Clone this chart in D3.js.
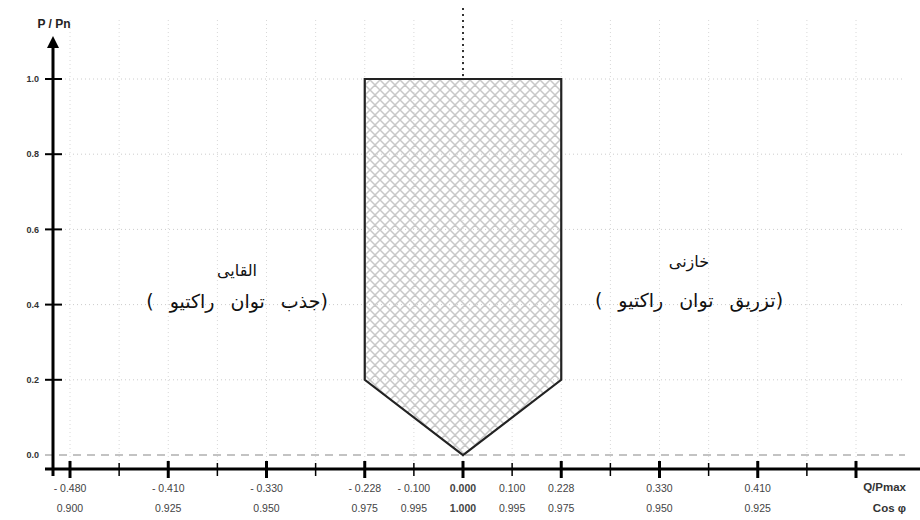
<!DOCTYPE html>
<html>
<head>
<meta charset="utf-8">
<script src="https://cdn.jsdelivr.net/npm/d3@7"></script>
<style>
  body { margin: 0; background: #fff; }
  svg text { font-family: "Liberation Sans", Arial, sans-serif; }
  .fa { font-family: "DejaVu Sans", sans-serif; fill: #111; }
</style>
</head>
<body>
<div id="chart"></div>
<script>
// tick labels along the horizontal axis (index = tick slot, halves are minor ticks)
var qSlots  = [0, 1, 2, 3, 3.5, 4, 4.5, 5, 6, 7];
var qLabels = ["- 0.480", "- 0.410", "- 0.330", "- 0.228", "- 0.100", "0.000", "0.100", "0.228", "0.330", "0.410"];
var qValues = [-0.480, -0.410, -0.330, -0.228, -0.100, 0, 0.100, 0.228, 0.330, 0.410];
var cosLabels = ["0.900", "0.925", "0.950", "0.975", "0.995", "1.000", "0.995", "0.975", "0.950", "0.925"];
var pTicks = [0.0, 0.2, 0.4, 0.6, 0.8, 1.0];

// operating area (Q/Pmax, P/Pn)
var areaQ = [-0.228, -0.228, 0.228, 0.228, 0];
var areaP = [0.2, 1.0, 1.0, 0.2, 0.0];

// region captions
var leftLines  = ["القایی", "( جذب توان راکتیو)"];
var rightLines = ["خازنی", "( تزریق توان راکتیو)"];

var width = 920, height = 520;

var svg = d3.select("#chart").append("svg")
    .attr("width", width)
    .attr("height", height);

// slot scale -> pixels
var x = d3.scaleLinear().domain([0, 8]).range([70, 856]);
// piecewise scale from Q value to pixel
var q = d3.scaleLinear().domain(qValues).range(qSlots.map(function(s) { return x(s); }));
var y = d3.scaleLinear().domain([0, 1]).range([455, 79]);

var axisY = 469, axisX = 53;

// hatch pattern
var defs = svg.append("defs");
var pat = defs.append("pattern")
    .attr("id", "hatch")
    .attr("patternUnits", "userSpaceOnUse")
    .attr("width", 10).attr("height", 10);
pat.append("path")
    .attr("d", "M0,0 L10,10 M10,0 L0,10 M-5,5 L5,15 M5,-5 L15,5 M5,15 L15,5 M-5,5 L5,-5")
    .style("stroke", "#c8c8c8")
    .style("stroke-width", 1.5);

defs.append("marker")
    .attr("id", "arrow")
    .attr("viewBox", "0 0 10 10")
    .attr("refX", 5).attr("refY", 5)
    .attr("markerWidth", 4).attr("markerHeight", 4)
    .attr("orient", "auto")
  .append("path")
    .attr("d", "M0,0 L10,5 L0,10 z")
    .style("fill", "#000");

// grid
var slots = d3.range(0, 8.5, 0.5);
svg.append("g").selectAll("line")
    .data(slots)
  .enter().append("line")
    .attr("x1", function(d) { return x(d); })
    .attr("x2", function(d) { return x(d); })
    .attr("y1", 20).attr("y2", 462)
    .style("stroke", "#d8d8d8")
    .style("stroke-width", 1)
    .style("stroke-dasharray", "1,3");

svg.append("g").selectAll("line")
    .data(pTicks.slice(1))
  .enter().append("line")
    .attr("x1", axisX).attr("x2", 905)
    .attr("y1", function(d) { return y(d); })
    .attr("y2", function(d) { return y(d); })
    .style("stroke", "#cccccc")
    .style("stroke-width", 1)
    .style("stroke-dasharray", "1,3");

// zero line
svg.append("line")
    .attr("x1", 45).attr("x2", 905)
    .attr("y1", y(0)).attr("y2", y(0))
    .style("stroke", "#888")
    .style("stroke-width", 1.2)
    .style("stroke-dasharray", "8,6");

// dotted line above the area
svg.append("line")
    .attr("x1", q(0)).attr("x2", q(0))
    .attr("y1", 8).attr("y2", y(1))
    .style("stroke", "#333")
    .style("stroke-width", 2)
    .style("stroke-dasharray", "2,4");

// operating area
var pts = areaQ.map(function(d, i) { return [q(d), y(areaP[i])]; });
svg.append("path")
    .attr("d", d3.line()(pts) + "Z")
    .style("fill", "url(#hatch)")
    .style("stroke", "#222")
    .style("stroke-width", 2.2);

// y axis
svg.append("line")
    .attr("x1", axisX).attr("x2", axisX)
    .attr("y1", 476).attr("y2", 42)
    .style("stroke", "#000")
    .style("stroke-width", 3)
    .attr("marker-end", "url(#arrow)");

svg.append("g").selectAll("line")
    .data(pTicks)
  .enter().append("line")
    .attr("x1", 45).attr("x2", 62)
    .attr("y1", function(d) { return y(d); })
    .attr("y2", function(d) { return y(d); })
    .style("stroke", "#000")
    .style("stroke-width", function(d) { return d === 0 ? 0 : 2; });

svg.append("g").selectAll("text")
    .data(pTicks)
  .enter().append("text")
    .attr("x", 39)
    .attr("y", function(d) { return y(d); })
    .attr("dy", ".35em")
    .attr("text-anchor", "end")
    .style("font-size", "9px")
    .style("font-weight", "bold")
    .style("fill", "#333")
    .text(function(d) { return d3.format(".1f")(d); });

svg.append("text")
    .attr("x", 54).attr("y", 28)
    .attr("text-anchor", "middle")
    .style("font-size", "12px")
    .style("font-weight", "bold")
    .style("fill", "#222")
    .text("P / Pn");

// x axis
svg.append("line")
    .attr("x1", 45).attr("x2", 920)
    .attr("y1", axisY).attr("y2", axisY)
    .style("stroke", "#000")
    .style("stroke-width", 3);

svg.append("g").selectAll("line")
    .data(slots)
  .enter().append("line")
    .attr("x1", function(d) { return x(d); })
    .attr("x2", function(d) { return x(d); })
    .attr("y1", function(d) { return d % 1 === 0 ? 461 : 463; })
    .attr("y2", function(d) { return d % 1 === 0 ? 478 : 476; })
    .style("stroke", "#000")
    .style("stroke-width", function(d) { return d % 1 === 0 ? 3 : 1.5; });

svg.append("g").selectAll("text")
    .data(qSlots)
  .enter().append("text")
    .attr("x", function(d) { return x(d); })
    .attr("y", 492)
    .attr("text-anchor", "middle")
    .style("font-size", "10.5px")
    .style("fill", "#444")
    .style("font-weight", function(d, i) { return qValues[i] === 0 ? "bold" : "normal"; })
    .text(function(d, i) { return qLabels[i]; });

svg.append("g").selectAll("text")
    .data(qSlots)
  .enter().append("text")
    .attr("x", function(d) { return x(d); })
    .attr("y", 512)
    .attr("text-anchor", "middle")
    .style("font-size", "10.5px")
    .style("fill", "#444")
    .style("font-weight", function(d, i) { return qValues[i] === 0 ? "bold" : "normal"; })
    .text(function(d, i) { return cosLabels[i]; });

svg.append("text")
    .attr("x", 906).attr("y", 491)
    .attr("text-anchor", "end")
    .style("font-size", "11.5px")
    .style("font-weight", "bold")
    .style("fill", "#333")
    .text("Q/Pmax");

svg.append("text")
    .attr("x", 906).attr("y", 512)
    .attr("text-anchor", "end")
    .style("font-size", "11.5px")
    .style("font-weight", "bold")
    .style("fill", "#333")
    .text("Cos φ");

// region captions
function caption(lines, cx, y0, y1) {
  svg.append("text")
    .attr("class", "fa")
    .attr("x", cx).attr("y", y0)
    .attr("text-anchor", "middle")
    .style("font-size", "16px")
    .text(lines[0]);
  svg.append("text")
    .attr("class", "fa")
    .attr("x", cx).attr("y", y1)
    .attr("text-anchor", "middle")
    .style("font-size", "19px")
    .style("word-spacing", "10px")
    .text(lines[1]);
}
caption(leftLines, x(1.7), 276, 308);
caption(rightLines, x(6.3), 267, 307);
</script>
</body>
</html>
